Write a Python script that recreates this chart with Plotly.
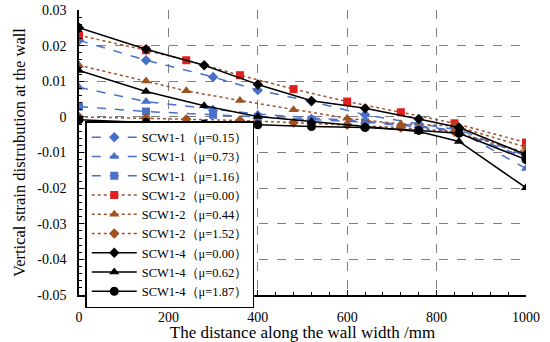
import plotly.graph_objects as go

x_scw11 = [0, 150, 300, 400, 520, 640, 760, 850, 1000]
x_scw12 = [0, 150, 240, 360, 480, 600, 720, 840, 1000]
x_scw14 = [0, 150, 280, 400, 520, 640, 760, 850, 1000]

scw11_015 = [0.0215, 0.0159, 0.0112, 0.0075, 0.0043, 0.0006, -0.0020, -0.0036, -0.0110]
scw11_073 = [0.0083, 0.0043, 0.0022, 0.0008, -0.0003, -0.0012, -0.0025, -0.0040, -0.0145]
scw11_116 = [0.0029, 0.0015, 0.0006, 0.0000, -0.0008, -0.0015, -0.0028, -0.0042, -0.0115]

scw12_000 = [0.0229, 0.0187, 0.0159, 0.0117, 0.0078, 0.0043, 0.0013, -0.0018, -0.0072]
scw12_044 = [0.0145, 0.0101, 0.0073, 0.0046, 0.0020, -0.0004, -0.0020, -0.0025, -0.0085]
scw12_152 = [0.0000, -0.0004, -0.0007, -0.0010, -0.0016, -0.0022, -0.0030, -0.0042, -0.0100]

scw14_000 = [0.0250, 0.0190, 0.0145, 0.0091, 0.0045, 0.0024, -0.0006, -0.0030, -0.0106]
scw14_062 = [0.0130, 0.0071, 0.0031, 0.0001, -0.0013, -0.0027, -0.0041, -0.0069, -0.0199]
scw14_187 = [-0.0008, -0.0016, -0.0020, -0.0022, -0.0027, -0.0030, -0.0038, -0.0046, -0.0120]

names = ["SCW1-1（μ=0.15）", "SCW1-1（μ=0.73）", "SCW1-1（μ=1.16）",
         "SCW1-2（μ=0.00）", "SCW1-2（μ=0.44）", "SCW1-2（μ=1.52）",
         "SCW1-4（μ=0.00）", "SCW1-4（μ=0.62）", "SCW1-4（μ=1.87）"]

y_tickvals = [0.03, 0.02, 0.01, 0, -0.01, -0.02, -0.03, -0.04, -0.05]
y_ticktext = ["0.03", "0.02", "0.01", "0", "-0.01", "-0.02", "-0.03", "-0.04", "-0.05"]
x_tickvals = [0, 200, 400, 600, 800, 1000]
x_ticktext = ["0", "200", "400", "600", "800", "1000"]

blue = "#4A6FC8"
brown = "#A0522D"
series = [
    (x_scw11, scw11_015, blue, "dash", "diamond", blue, 8),
    (x_scw11, scw11_073, blue, "dash", "triangle-up", blue, 9),
    (x_scw11, scw11_116, blue, "dash", "square", blue, 8),
    (x_scw12, scw12_000, brown, "dot", "square", "#E0201C", 8),
    (x_scw12, scw12_044, brown, "dot", "triangle-up", "#A0521E", 9),
    (x_scw12, scw12_152, brown, "dot", "diamond", "#A0521E", 8),
    (x_scw14, scw14_000, "black", "solid", "diamond", "black", 8),
    (x_scw14, scw14_062, "black", "solid", "triangle-up", "black", 9),
    (x_scw14, scw14_187, "black", "solid", "circle", "black", 9),
]

fig = go.Figure()
for (xs, ys, lc, dash, sym, mc, ms), nm in zip(series, names):
    fig.add_trace(go.Scatter(
        x=xs, y=ys, name=nm, mode="lines+markers",
        line=dict(color=lc, dash=dash, width=1.5),
        marker=dict(symbol=sym, color=mc, size=ms),
    ))

font = "Liberation Serif, DejaVu Serif, serif"
fig.update_layout(
    width=550, height=342,
    margin=dict(l=79, r=24, t=10, b=47),
    paper_bgcolor="white", plot_bgcolor="white",
    font=dict(family=font, size=14, color="black"),
    showlegend=True,
    legend=dict(
        x=0.014, y=0.61, xanchor="left", yanchor="top",
        bgcolor="white", bordercolor="black", borderwidth=1.5,
        font=dict(family=font, size=12.5),
        tracegroupgap=0, itemwidth=45,
    ),
    xaxis=dict(
        range=[0, 1000], tickvals=x_tickvals, ticktext=x_ticktext,
        showgrid=True, gridcolor="#808080", griddash="dash", gridwidth=1,
        showline=True, linecolor="black", linewidth=1.5,
        ticks="inside", ticklen=5, tickcolor="black",
        minor=dict(dtick=40, tick0=0, ticks="inside", ticklen=3, tickcolor="black", showgrid=False),
        zeroline=False, automargin=False, ticklabelstandoff=8,
        ticklabeloverflow="allow",
        title=dict(text="The distance along the wall width /mm", standoff=2, font=dict(size=17)),
    ),
    yaxis=dict(
        range=[-0.05, 0.03], tickvals=y_tickvals, ticktext=y_ticktext,
        showgrid=True, gridcolor="#808080", griddash="dash", gridwidth=1,
        showline=True, linecolor="black", linewidth=1.5,
        ticks="inside", ticklen=5, tickcolor="black",
        minor=dict(dtick=0.002, tick0=0, ticks="inside", ticklen=3, tickcolor="black", showgrid=False),
        zeroline=False, automargin=False, ticklabelstandoff=8,
        ticklabeloverflow="allow",
        title=dict(text="Vertical strain distrubution at the wall", standoff=8, font=dict(size=16.5)),
    ),
)

fig.write_html("out.html", config={"displayModeBar": False},
               post_script="document.body.style.margin='0';")
